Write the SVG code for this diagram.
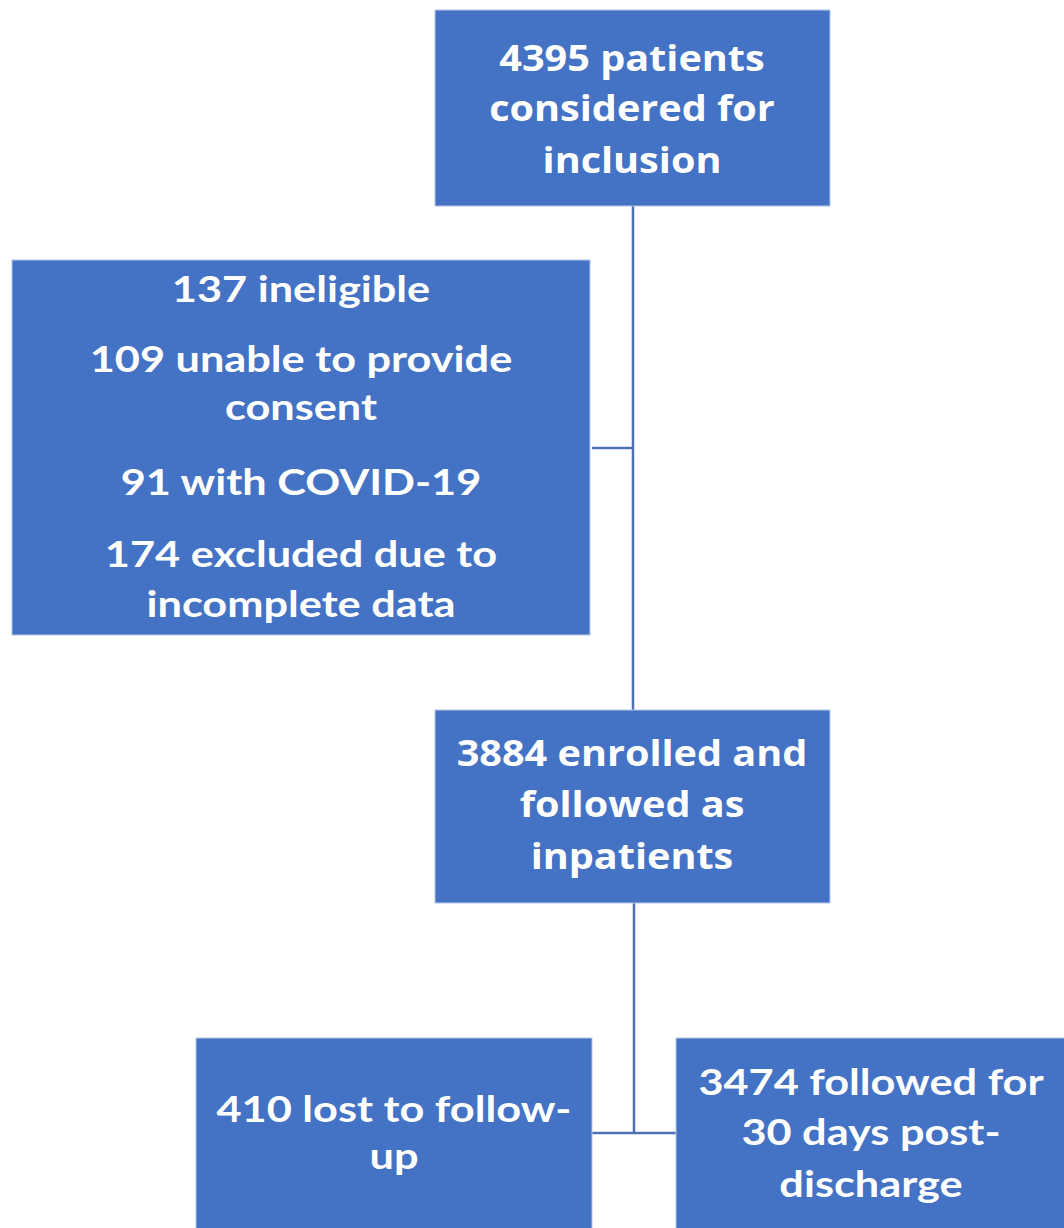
<svg xmlns="http://www.w3.org/2000/svg" width="1064" height="1228" viewBox="0 0 1064 1228">
<style>
.box{fill:#4472C4;stroke:#B4C7E7;stroke-width:1}
.t1{font-family:"Open Sans","DejaVu Sans",sans-serif;font-weight:bold;font-size:36px;fill:#fff;text-anchor:middle}
.t2{font-family:Lato,"Liberation Sans",sans-serif;font-weight:bold;font-size:37px;fill:#fff;text-anchor:middle}
.ln{stroke:#4F71B5;stroke-width:2.5;fill:none}
</style>
<rect width="1064" height="1228" fill="#fff"/>
<g id="connectors">
<path class="ln" d="M633 206 V710"/>
<path class="ln" d="M592 448 H633"/>
<path class="ln" d="M634 903 V1133"/>
<path class="ln" d="M592 1133 H676"/>
</g>
<g id="n1">
<rect class="box" x="435" y="10" width="395" height="196"/>
<text class="t1" transform="translate(632 71) scale(1.1 1)">4395 patients</text>
<text class="t1" transform="translate(632 121) scale(1.1 1)">considered for</text>
<text class="t1" transform="translate(632 173) scale(1.1 1)">inclusion</text>
</g>
<g id="n2">
<rect class="box" x="12" y="260" width="578" height="375"/>
<text class="t2" transform="translate(301 302) scale(1.17 1)">137 ineligible</text>
<text class="t2" transform="translate(301 372) scale(1.17 1)">109 unable to provide</text>
<text class="t2" transform="translate(301 420) scale(1.17 1)">consent</text>
<text class="t2" transform="translate(301 495) scale(1.17 1)">91 with COVID-19</text>
<text class="t2" transform="translate(301 567) scale(1.17 1)">174 excluded due to</text>
<text class="t2" transform="translate(301 617) scale(1.17 1)">incomplete data</text>
</g>
<g id="n3">
<rect class="box" x="435" y="710" width="395" height="193"/>
<text class="t1" transform="translate(632 766) scale(1.1 1)">3884 enrolled and</text>
<text class="t1" transform="translate(632 817) scale(1.1 1)">followed as</text>
<text class="t1" transform="translate(632 869) scale(1.1 1)">inpatients</text>
</g>
<g id="n4">
<rect class="box" x="196" y="1038" width="396" height="200"/>
<text class="t2" transform="translate(394 1122) scale(1.17 1)">410 lost to follow-</text>
<text class="t2" transform="translate(394 1169) scale(1.17 1)">up</text>
</g>
<g id="n5">
<rect class="box" x="676" y="1038" width="400" height="200"/>
<text class="t2" transform="translate(871 1095) scale(1.17 1)">3474 followed for</text>
<text class="t2" transform="translate(871 1145) scale(1.17 1)">30 days post-</text>
<text class="t2" transform="translate(871 1197) scale(1.17 1)">discharge</text>
</g>
</svg>
